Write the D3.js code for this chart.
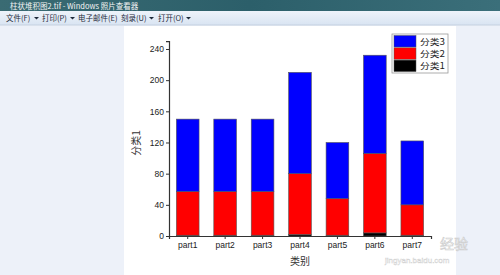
<!DOCTYPE html>
<meta charset="utf-8">
<title>柱状堆积图</title>
<style>
body { margin: 0; background: #edf1f9; overflow: hidden; }
text { font-family: "Liberation Sans", "Noto Sans CJK SC", sans-serif; }
.cjk { font-family: "Noto Sans CJK SC", sans-serif; }
</style>
<body>
<script src="https://cdn.jsdelivr.net/npm/d3@7"></script>
<script>

const width = 500;
const height = 275;

// data
const categories = ["part1", "part2", "part3", "part4", "part5", "part6", "part7"];
const series1 = [1, 1, 1, 2, 1, 4, 1];        // 分类1 (black)
const series2 = [56, 56, 56, 78, 47, 102, 39]; // 分类2 (red)
const series3 = [93, 93, 93, 130, 72, 126, 82]; // 分类3 (blue)
const seriesNames = ["分类1", "分类2", "分类3"];
const seriesColors = ["#000000", "#ff0000", "#0000ff"];
const yTicks = [0, 40, 80, 120, 160, 200, 240];
const menuItems = ["文件(F)", "打印(P)", "电子邮件(E)", "刻录(U)", "打开(O)"];
const menuArrows = [true, true, false, true, true];

const svg = d3.select("body").append("svg")
    .attr("width", width)
    .attr("height", height);

// window chrome
const grad = svg.append("defs").append("linearGradient").attr("id", "tb");
grad.append("stop").attr("offset", "0%").attr("stop-color", "#3a6b73");
grad.append("stop").attr("offset", "50%").attr("stop-color", "#2c5f6a");
grad.append("stop").attr("offset", "100%").attr("stop-color", "#3b6f7a");
svg.append("rect").attr("width", width).attr("height", 11).attr("fill", "url(#tb)");
svg.append("text").attr("class", "cjk").attr("x", 10).attr("y", 8.5)
    .attr("font-size", 7.5).attr("fill", "#f4f4f4")
    .text("柱状堆积图2.tif - Windows 照片查看器");

const mg = svg.append("defs").append("linearGradient").attr("id", "mb")
    .attr("x1", 0).attr("x2", 0).attr("y1", 0).attr("y2", 1);
mg.append("stop").attr("offset", "0%").attr("stop-color", "#eef3fa");
mg.append("stop").attr("offset", "100%").attr("stop-color", "#d9e4f2");
svg.append("rect").attr("y", 11).attr("width", width).attr("height", 14).attr("fill", "url(#mb)");
svg.append("line").attr("x1", 0).attr("x2", width).attr("y1", 25).attr("y2", 25)
    .attr("stroke", "#c5d1e0");

const menuX = [6, 42, 78, 121, 158];
const menu = svg.selectAll(".menu")
  .data(menuItems)
  .enter().append("g")
    .attr("transform", (d, i) => "translate(" + menuX[i] + ",21)");
menu.append("text")
    .attr("class", "cjk")
    .attr("font-size", 7.5)
    .attr("fill", "#1e2a3a")
    .text(d => d);
menu.filter((d, i) => menuArrows[i]).append("path")
    .attr("d", "M28,-4 L33,-4 L30.5,-1.5 Z")
    .attr("fill", "#1e2a3a");

// white image area
svg.append("rect").attr("x", 124).attr("y", 26).attr("width", 332).attr("height", 249)
    .attr("fill", "#ffffff");

// scales
const x = d3.scaleBand()
    .domain(categories)
    .range([169, 431])
    .paddingInner(0.394)
    .paddingOuter(0.197);

const y = d3.scaleLinear()
    .domain([0, 250])
    .range([236, 41.2]);

const table = categories.map((c, i) => ({
  cat: c, "分类1": series1[i], "分类2": series2[i], "分类3": series3[i]
}));
const stack = d3.stack().keys(seriesNames)(table);

const g = svg.append("g");
g.selectAll(".layer")
  .data(stack)
  .enter().append("g")
    .attr("fill", (d, i) => seriesColors[i])
  .selectAll("rect")
  .data(d => d)
  .enter().append("rect")
    .attr("x", d => x(d.data.cat))
    .attr("y", d => y(d[1]))
    .attr("width", x.bandwidth())
    .attr("height", d => y(d[0]) - y(d[1]))
    .attr("stroke", "#555")
    .attr("stroke-width", 0.6);

// axes
const yAxis = g.append("g")
    .attr("transform", "translate(169,0)")
    .call(d3.axisLeft(y).tickValues(yTicks).tickSize(3).tickPadding(2));
const xAxis = g.append("g")
    .attr("transform", "translate(0,236)")
    .call(d3.axisBottom(x).tickSize(3).tickPadding(3));
[yAxis, xAxis].forEach(a => {
  a.select(".domain").attr("stroke", "#333").attr("stroke-width", 1.2);
  a.selectAll(".tick line").attr("stroke", "#333");
  a.selectAll(".tick text").attr("font-size", 8.5).attr("fill", "#222")
      .attr("font-family", "Liberation Sans, sans-serif");
});

// axis titles
svg.append("text").attr("class", "cjk")
    .attr("transform", "translate(140,143) rotate(-90)")
    .attr("text-anchor", "middle")
    .attr("font-size", 10).attr("fill", "#333")
    .text("分类1");
svg.append("text").attr("class", "cjk")
    .attr("x", 300).attr("y", 265)
    .attr("text-anchor", "middle")
    .attr("font-size", 10).attr("fill", "#333")
    .text("类别");

// legend
const legend = svg.append("g").attr("transform", "translate(392,34)");
legend.append("rect").attr("width", 56).attr("height", 39)
    .attr("fill", "#fff").attr("stroke", "#999").attr("stroke-width", 0.8);
const legendOrder = [2, 1, 0];
const items = legend.selectAll(".item")
  .data(legendOrder)
  .enter().append("g")
    .attr("transform", (d, i) => "translate(2," + (1.5 + i * 12.3) + ")");
items.append("rect")
    .attr("width", 22).attr("height", 11.5)
    .attr("fill", d => seriesColors[d])
    .attr("stroke", "#555").attr("stroke-width", 0.5);
items.append("text")
    .attr("class", "cjk")
    .attr("x", 26).attr("y", 9)
    .attr("font-size", 8.5).attr("fill", "#222")
    .attr("textLength", 25)
    .attr("lengthAdjust", "spacingAndGlyphs")
    .text(d => seriesNames[d]);

// watermark
svg.append("text").attr("class", "cjk").attr("x", 440).attr("y", 249)
    .attr("font-size", 14)
    .attr("fill", "#ffffff").attr("fill-opacity", 0.75)
    .attr("stroke", "#cccccc").attr("stroke-width", 0.6)
    .text("经验");
svg.append("text").attr("x", 385).attr("y", 263)
    .attr("font-size", 8)
    .attr("fill", "#ffffff").attr("stroke", "#d0d0d0").attr("stroke-width", 0.4)
    .text("jingyan.baidu.com");

</script>
</body>
